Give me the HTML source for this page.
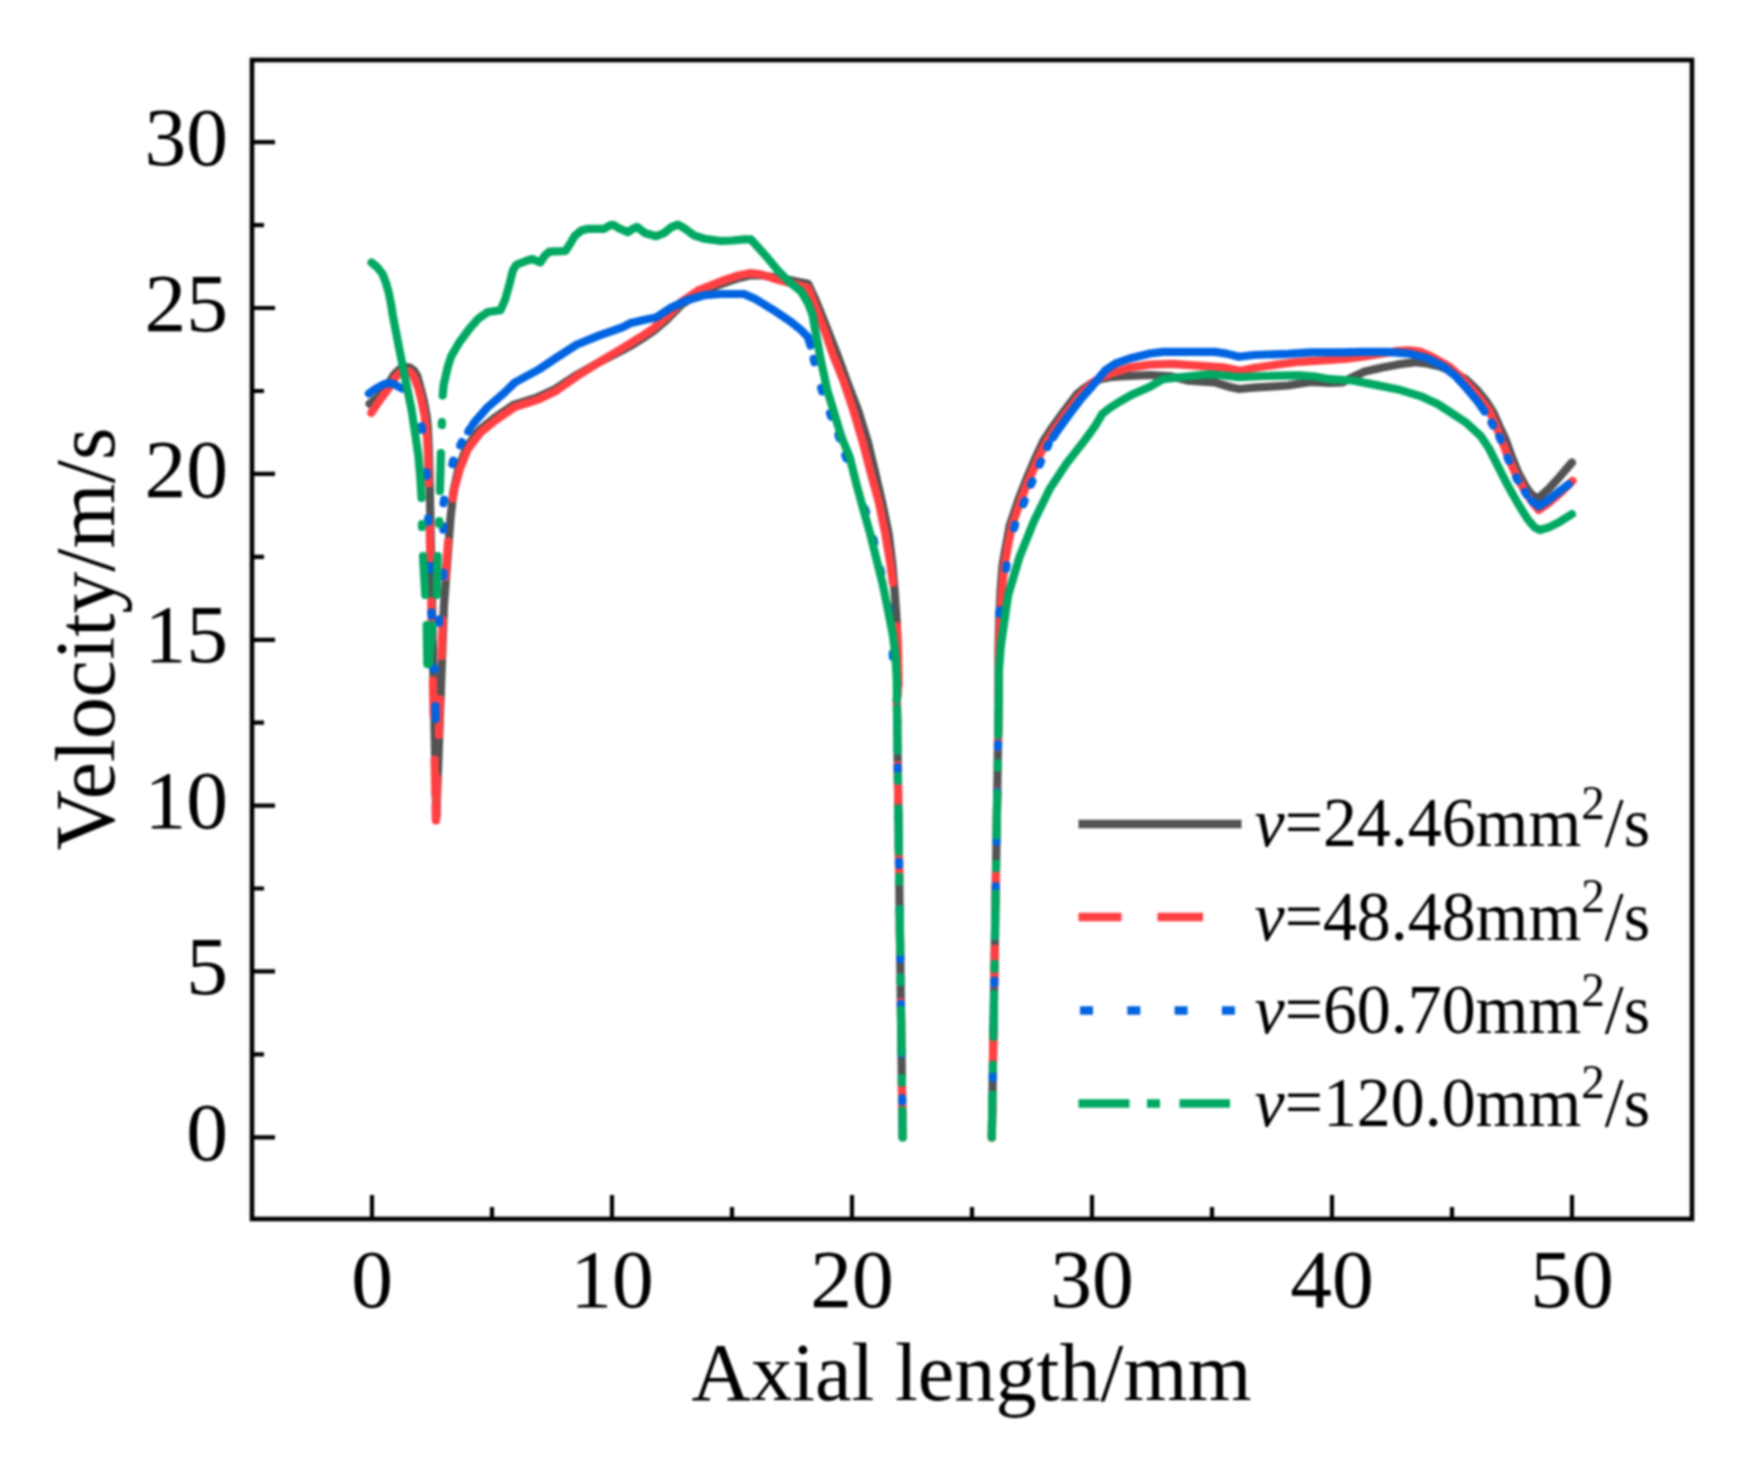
<!DOCTYPE html>
<html><head><meta charset="utf-8"><title>Velocity vs axial length</title>
<style>
html,body{margin:0;padding:0;background:#fff;}
body{width:1757px;height:1457px;overflow:hidden;}
svg{display:block;filter:blur(0.8px);}
text{font-family:"Liberation Serif",serif;fill:#000;}
.c path{fill:none;stroke-width:8.2;stroke-linejoin:round;stroke-linecap:round;}
.lg path{fill:none;stroke-width:8.4;stroke-linecap:butt;}
</style></head><body>
<svg width="1757" height="1457" viewBox="0 0 1757 1457">
<rect width="1757" height="1457" fill="#fff"/>
<g class="c">
<path d="M369.6,403.8 L379.0,396.5 L387.3,385.5 L394.2,374.5 L400.0,369.0 L405.0,367.0 L409.4,367.3 L414.0,370.5 L417.3,376.0 L420.6,388.0 L424.0,401.8 L426.5,415.5 L427.7,425.1 L428.4,440.0 L429.0,456.0 L429.7,483.5 L436.3,817.0" stroke="#525252" />
<path d="M436.3,817.0 L444.0,604.7 L448.0,552.0 L450.5,517.9 L453.6,490.4 L458.5,468.5 L466.5,447.5 L479.0,430.5 L494.5,418.0 L513.5,405.0 L537.5,397.3 L555.0,389.2 L576.5,375.0 L599.5,362.0 L622.3,350.3 L630.0,346.2 L640.0,340.0 L652.8,331.5 L667.6,319.0 L681.3,304.8 L698.4,293.3 L721.2,284.0 L738.3,278.2 L749.7,275.5 L761.0,275.3 L780.0,278.0 L795.2,281.3 L808.0,283.8 L815.4,299.5 L822.5,317.0 L827.6,330.0 L837.6,355.4 L846.8,380.8 L858.4,411.3 L867.8,441.7 L875.1,472.2 L882.2,502.7 L888.5,533.1 L892.3,563.6 L894.9,594.1 L896.9,624.6 L897.8,655.0 L898.2,684.0 L896.9,700.0" stroke="#525252" />
<path d="M896.9,700.0 L902.6,1137.5" stroke="#525252" />
<path d="M991.8,1137.5 L998.7,700.0" stroke="#525252" />
<path d="M998.7,700.0 L998.5,650.0 L999.2,620.0 L1000.6,590.0 L1002.5,565.0 L1009.6,526.0 L1018.5,499.5 L1026.2,479.8 L1034.6,459.8 L1043.2,441.3 L1051.2,429.0 L1063.8,411.5 L1076.9,394.3 L1084.0,388.5 L1092.0,383.0 L1100.0,379.3 L1110.0,377.2 L1119.2,376.3 L1150.0,375.0 L1171.6,376.4 L1188.8,380.7 L1214.5,382.4 L1230.0,387.0 L1239.0,389.0 L1253.8,387.7 L1288.0,385.5 L1310.7,382.0 L1330.0,383.0 L1342.0,382.5 L1352.0,377.5 L1364.1,371.8 L1381.2,367.8 L1398.3,364.4 L1415.4,362.1 L1426.8,363.5 L1440.0,366.5 L1452.0,371.5 L1465.5,379.0 L1477.3,390.3 L1486.7,401.8 L1493.3,412.5 L1499.0,425.5 L1505.6,439.4 L1511.5,455.9 L1518.1,472.4 L1525.8,486.6 L1531.3,494.3 L1537.8,498.7 L1548.8,488.8 L1559.8,476.7 L1571.9,462.5" stroke="#525252" />
<path d="M371.3,412.8 L380.6,399.0 L388.8,388.0 L395.7,377.0 L401.0,371.8 L405.5,370.3 L410.0,371.8 L413.5,375.7 L418.3,388.0 L421.8,401.8 L424.5,415.5 L425.9,425.1 L427.2,440.0 L428.0,456.0 L428.7,483.5" stroke="#ff4043" />
<path d="M428.7,483.5 L435.9,820.0" stroke="#ff4043" stroke-dasharray="36 43" stroke-dashoffset="40"/>
<path d="M435.9,820.0 L443.3,604.7 L447.3,552.0 L450.0,517.9 L454.1,490.4" stroke="#ff4043" stroke-dasharray="36 43" stroke-dashoffset="-6"/>
<path d="M454.1,490.4 L459.6,469.8 L467.8,449.2 L480.4,432.5 L495.9,420.0 L514.8,407.0 L538.8,399.3 L556.0,391.0 L576.8,376.3 L599.5,362.0 L622.3,348.3 L630.0,343.6 L640.0,337.3 L652.8,328.8 L667.6,316.2 L681.3,301.8 L698.4,290.3 L721.2,281.2 L738.3,275.5 L749.7,273.2 L761.0,274.3 L778.1,279.8 L795.2,284.3 L807.8,287.7 L813.8,302.6 L820.5,319.7 L824.4,330.0 L833.2,355.4 L843.4,380.8 L853.6,411.3 L862.6,441.7 L870.6,472.2 L878.9,502.7 L885.2,533.1 L890.3,563.6 L892.9,583.0" stroke="#ff4043" />
<path d="M435.5,806.0 L435.9,820.5 L436.4,806.0" stroke="#ff4043" />
<path d="M896.8,626.0 L898.2,655.0 L898.4,684.0 L896.9,700.0" stroke="#ff4043" />
<path d="M896.9,700.0 L902.6,1137.5" stroke="#ff4043" stroke-dasharray="36 43" stroke-dashoffset="14"/>
<path d="M991.8,1137.5 L998.7,700.0" stroke="#ff4043" stroke-dasharray="36 43" stroke-dashoffset="5"/>
<path d="M998.7,700.0 L999.0,650.0 L1000.2,620.0 L1002.0,590.0 L1004.3,565.5 L1011.6,527.0 L1020.5,501.0 L1028.2,481.3 L1036.8,461.5 L1045.5,443.2 L1053.4,431.0 L1066.0,413.5 L1079.1,396.3 L1086.0,389.0 L1093.0,382.5 L1100.0,378.0 L1106.0,375.3 L1112.4,373.2 L1129.5,367.6 L1150.0,364.6 L1171.6,363.8 L1197.4,365.6 L1223.1,367.3 L1240.3,370.7 L1253.8,368.0 L1276.6,364.6 L1299.4,361.8 L1315.7,360.8 L1330.0,359.8 L1347.0,358.7 L1364.1,356.4 L1381.2,353.6 L1398.3,350.9 L1409.7,350.3 L1421.0,351.9 L1432.4,357.0 L1449.5,366.7 L1460.9,376.9 L1472.3,389.4 L1483.7,403.1 L1489.4,411.0 L1494.0,421.0 L1501.0,438.3 L1509.0,459.2 L1517.8,478.9 L1526.3,493.2 L1533.5,503.8 L1538.9,510.0 L1548.8,503.0 L1559.8,493.5 L1572.4,481.0" stroke="#ff4043" />
<path d="M368.9,393.5 L376.0,388.5 L384.3,384.0 L390.0,383.0 L394.6,384.5 L402.0,388.5" stroke="#0064e1" />
<path d="M421.6,426.3 L422.0,429.7" stroke="#0064e1" />
<path d="M426.6,472.3 L426.8,475.7" stroke="#0064e1" />
<path d="M428.1,518.3 L428.3,521.7" stroke="#0064e1" />
<path d="M429.5,566.0 L429.7,569.4" stroke="#0064e1" />
<path d="M431.4,612.3 L431.6,615.7" stroke="#0064e1" />
<path d="M432.3,666.8 L434.9,669.2" stroke="#0064e1" />
<path d="M439.0,622.7 L439.4,619.3" stroke="#0064e1" />
<path d="M443.2,576.2 L443.4,572.8" stroke="#0064e1" />
<path d="M443.3,529.7 L443.3,526.3" stroke="#0064e1" />
<path d="M443.5,503.1 L444.1,499.7" stroke="#0064e1" />
<path d="M452.3,464.0 L453.3,460.6" stroke="#0064e1" />
<path d="M460.2,445.3 L461.8,442.1" stroke="#0064e1" />
<path d="M468.3,431.5 L470.1,428.5" stroke="#0064e1" />
<path d="M435.3,706.0 L435.7,719.0" stroke="#0064e1" />
<path d="M473.0,424.0 L476.0,420.4 L487.3,407.5 L504.5,392.6 L514.8,382.5 L538.8,369.5 L556.0,358.0 L576.5,344.7 L598.8,335.6 L622.3,327.4 L630.0,323.3 L644.8,319.7 L656.2,317.4 L669.9,308.3 L687.0,300.3 L704.1,295.2 L721.2,294.0 L744.0,294.0 L755.4,299.1 L772.5,309.4 L789.5,320.8 L800.9,329.9 L807.8,336.8 L810.5,345.5" stroke="#0064e1" />
<path d="M813.7,358.8 L814.5,362.2" stroke="#0064e1" />
<path d="M821.2,388.0 L822.2,391.4" stroke="#0064e1" />
<path d="M830.0,413.4 L831.2,416.6" stroke="#0064e1" />
<path d="M838.4,435.1 L839.6,438.3" stroke="#0064e1" />
<path d="M845.3,455.4 L846.5,458.6" stroke="#0064e1" />
<path d="M864.8,508.6 L866.0,512.0" stroke="#0064e1" />
<path d="M873.4,539.1 L874.2,542.5" stroke="#0064e1" />
<path d="M880.3,569.5 L881.1,572.9" stroke="#0064e1" />
<path d="M888.7,607.6 L889.3,611.0" stroke="#0064e1" />
<path d="M892.7,653.3 L892.9,656.7" stroke="#0064e1" />
<path d="M896.9,700.0 L902.6,1137.5" stroke="#0064e1" stroke-dasharray="3 44.3" stroke-dashoffset="-20"/>
<path d="M991.8,1137.5 L998.7,700.0" stroke="#0064e1" stroke-dasharray="3 44.3" stroke-dashoffset="-12"/>
<path d="M999.2,613.7 L999.8,610.3" stroke="#0064e1" />
<path d="M1006.0,568.7 L1006.6,565.3" stroke="#0064e1" />
<path d="M1014.1,528.2 L1015.1,524.8" stroke="#0064e1" />
<path d="M1023.4,504.1 L1024.6,500.9" stroke="#0064e1" />
<path d="M1031.0,484.4 L1032.4,481.2" stroke="#0064e1" />
<path d="M1039.6,464.6 L1041.0,461.4" stroke="#0064e1" />
<path d="M1047.3,447.1 L1048.7,443.9" stroke="#0064e1" />
<path d="M1053.0,437.5 L1056.1,432.7 L1068.4,415.5 L1081.5,398.3 L1091.8,386.7 L1098.6,378.4 L1105.5,370.2 L1115.8,363.3 L1129.5,358.5 L1150.0,353.5 L1163.0,351.9 L1188.8,351.9 L1214.5,351.9 L1226.5,353.6 L1239.0,356.8 L1253.8,355.0 L1288.0,353.8 L1310.7,352.3 L1340.0,352.4 L1364.1,351.9 L1386.9,351.9 L1409.7,353.6 L1426.8,358.1 L1443.8,366.7 L1455.2,375.8 L1466.6,388.3 L1478.0,402.0 L1484.5,411.5" stroke="#0064e1" />
<path d="M1491.5,422.5 L1493.1,425.5" stroke="#0064e1" />
<path d="M1499.3,436.7 L1500.7,439.9" stroke="#0064e1" />
<path d="M1507.5,457.6 L1508.9,460.8" stroke="#0064e1" />
<path d="M1516.2,477.3 L1517.8,480.5" stroke="#0064e1" />
<path d="M1524.9,491.7 L1526.7,494.7" stroke="#0064e1" />
<path d="M1531.5,500.5 L1538.9,506.4 L1548.8,499.8 L1559.8,491.0 L1568.6,484.4" stroke="#0064e1" />
<path d="M371.5,262.5 L377.0,267.0 L382.6,274.0 L386.0,283.0 L388.6,292.0 L391.0,304.0 L392.9,316.0 L396.0,332.0 L398.9,347.0 L401.5,360.0 L405.8,381.3 L411.6,410.0 L415.5,436.0 L418.4,456.0 L420.5,480.0 L421.6,498.0" stroke="#00a862" />
<path d="M421.9,524.0 L422.0,527.0" stroke="#00a862" />
<path d="M423.0,556.0 L425.3,595.0" stroke="#00a862" />
<path d="M426.7,625.0 L427.3,664.0" stroke="#00a862" />
<path d="M429.0,664.0 L432.1,625.0" stroke="#00a862" />
<path d="M436.7,595.0 L437.7,556.0" stroke="#00a862" />
<path d="M439.2,524.0 L439.3,521.0" stroke="#00a862" />
<path d="M439.9,491.0 L440.9,453.0" stroke="#00a862" />
<path d="M441.8,425.0 L441.9,422.0" stroke="#00a862" />
<path d="M442.7,395.5 L443.6,385.0 L445.7,376.0 L448.0,366.0 L451.4,355.9 L459.4,342.2 L469.6,328.5 L478.7,318.3 L487.9,312.0 L500.4,310.3 L505.0,300.0 L509.5,284.1 L512.9,270.4 L516.4,264.7 L526.6,260.7 L532.3,259.0 L540.3,262.4 L544.8,255.6 L549.4,251.6 L565.4,251.0 L569.9,244.2 L574.5,236.2 L581.3,230.5 L588.1,228.8 L604.1,228.8 L609.8,225.4 L613.2,224.8 L618.9,228.2 L628.0,232.2 L632.5,229.0 L636.8,226.8 L644.8,233.0 L656.2,236.2 L664.2,233.0 L671.0,227.4 L677.9,224.5 L684.7,228.5 L693.8,235.3 L704.1,238.7 L721.2,241.0 L732.6,240.5 L744.0,239.3 L750.8,239.3 L766.8,257.0 L778.1,270.7 L789.5,282.1 L800.9,291.2 L807.8,302.6 L812.3,314.0 L815.2,330.0 L820.9,360.5 L827.2,389.7 L834.8,415.0 L841.4,436.7 L849.7,457.0 L857.3,487.4 L863.6,510.3 L870.0,533.1 L876.3,558.5 L882.7,584.0 L887.8,609.3 L892.8,634.7 L895.4,655.0 L896.8,680.0 L896.9,700.0" stroke="#00a862" />
<path d="M896.9,700.0 L902.6,1137.5" stroke="#00a862" stroke-dasharray="43 25 5 27.6" stroke-dashoffset="-8"/>
<path d="M991.8,1137.5 L998.7,700.0" stroke="#00a862" stroke-dasharray="43 25 5 27.6" stroke-dashoffset="0"/>
<path d="M998.7,700.0 L999.0,670.0 L1000.8,645.8 L1008.2,595.0 L1019.5,557.0 L1034.0,521.0 L1049.8,488.8 L1066.5,463.5 L1084.9,440.0 L1095.2,425.8 L1102.1,414.1 L1108.9,408.6 L1119.2,401.8 L1132.9,394.2 L1150.0,386.7 L1163.0,379.1 L1188.8,376.2 L1208.3,374.3 L1219.7,375.0 L1239.0,377.2 L1265.2,376.0 L1299.4,375.4 L1315.0,376.5 L1330.0,379.2 L1352.8,380.5 L1375.5,384.9 L1398.3,389.4 L1421.0,396.3 L1438.1,404.2 L1450.0,412.0 L1466.5,422.9 L1480.7,436.1 L1489.5,449.3 L1497.2,464.7 L1504.9,480.0 L1512.6,494.3 L1520.3,507.5 L1528.0,519.6 L1534.6,527.3 L1540.0,530.0 L1548.8,527.3 L1559.8,521.8 L1571.9,514.1" stroke="#00a862" />
</g>
<g class="lg">
<path d="M1078.5,824.0 H1241.5" stroke="#525252"/>
<path d="M1078.5,917.0 H1121.5 M1157.5,917.0 H1203" stroke="#ff4043"/>
<path d="M1080,1010.5 h13 M1127.3,1010.5 h13 M1174.6,1010.5 h13 M1221.9,1010.5 h13" stroke="#0064e1"/>
<path d="M1078.5,1103.5 H1129.5 M1147,1103.5 H1160 M1179.5,1103.5 H1230" stroke="#00a862"/>
<text transform="translate(1254.5,846.4) scale(0.963,1)" font-size="70.5"><tspan font-style="italic">v</tspan>=24.46mm<tspan font-size="49" dy="-27.5">2</tspan><tspan dy="27.5">/s</tspan></text>
<text transform="translate(1254.5,939.6) scale(0.963,1)" font-size="70.5"><tspan font-style="italic">v</tspan>=48.48mm<tspan font-size="49" dy="-27.5">2</tspan><tspan dy="27.5">/s</tspan></text>
<text transform="translate(1254.5,1033.0) scale(0.963,1)" font-size="70.5"><tspan font-style="italic">v</tspan>=60.70mm<tspan font-size="49" dy="-27.5">2</tspan><tspan dy="27.5">/s</tspan></text>
<text transform="translate(1254.5,1125.9) scale(0.963,1)" font-size="70.5"><tspan font-style="italic">v</tspan>=120.0mm<tspan font-size="49" dy="-27.5">2</tspan><tspan dy="27.5">/s</tspan></text>
</g>
<g>
<rect x="252" y="60" width="1440" height="1159" fill="none" stroke="#000" stroke-width="4.6"/>
<path d="M372.0,1219 V1195 M492.0,1219 V1207 M612.0,1219 V1195 M732.0,1219 V1207 M852.0,1219 V1195 M972.0,1219 V1207 M1092.0,1219 V1195 M1212.0,1219 V1207 M1332.0,1219 V1195 M1452.0,1219 V1207 M1572.0,1219 V1195 M252,1137.3 H275 M252,1054.4 H264 M252,971.4 H275 M252,888.5 H264 M252,805.6 H275 M252,722.7 H264 M252,639.8 H275 M252,556.8 H264 M252,473.9 H275 M252,391.0 H264 M252,308.0 H275 M252,225.1 H264 M252,142.2 H275" stroke="#000" stroke-width="4.2" fill="none"/>
</g>
<g>
<text x="372.0" y="1307" text-anchor="middle" font-size="83.5">0</text>
<text x="612.0" y="1307" text-anchor="middle" font-size="83.5">10</text>
<text x="852.0" y="1307" text-anchor="middle" font-size="83.5">20</text>
<text x="1092.0" y="1307" text-anchor="middle" font-size="83.5">30</text>
<text x="1332.0" y="1307" text-anchor="middle" font-size="83.5">40</text>
<text x="1572.0" y="1307" text-anchor="middle" font-size="83.5">50</text>
<text x="228" y="1159.9" text-anchor="end" font-size="83.5">0</text>
<text x="228" y="994.0" text-anchor="end" font-size="83.5">5</text>
<text x="228" y="828.2" text-anchor="end" font-size="83.5">10</text>
<text x="228" y="662.4" text-anchor="end" font-size="83.5">15</text>
<text x="228" y="496.5" text-anchor="end" font-size="83.5">20</text>
<text x="228" y="330.6" text-anchor="end" font-size="83.5">25</text>
<text x="228" y="164.8" text-anchor="end" font-size="83.5">30</text>
<text x="971.5" y="1400" text-anchor="middle" font-size="82.3">Axial length/mm</text>
<text transform="translate(114.3,639) rotate(-90)" text-anchor="middle" font-size="83.7">Velocity/m/s</text>
</g>
</svg>
</body></html>
